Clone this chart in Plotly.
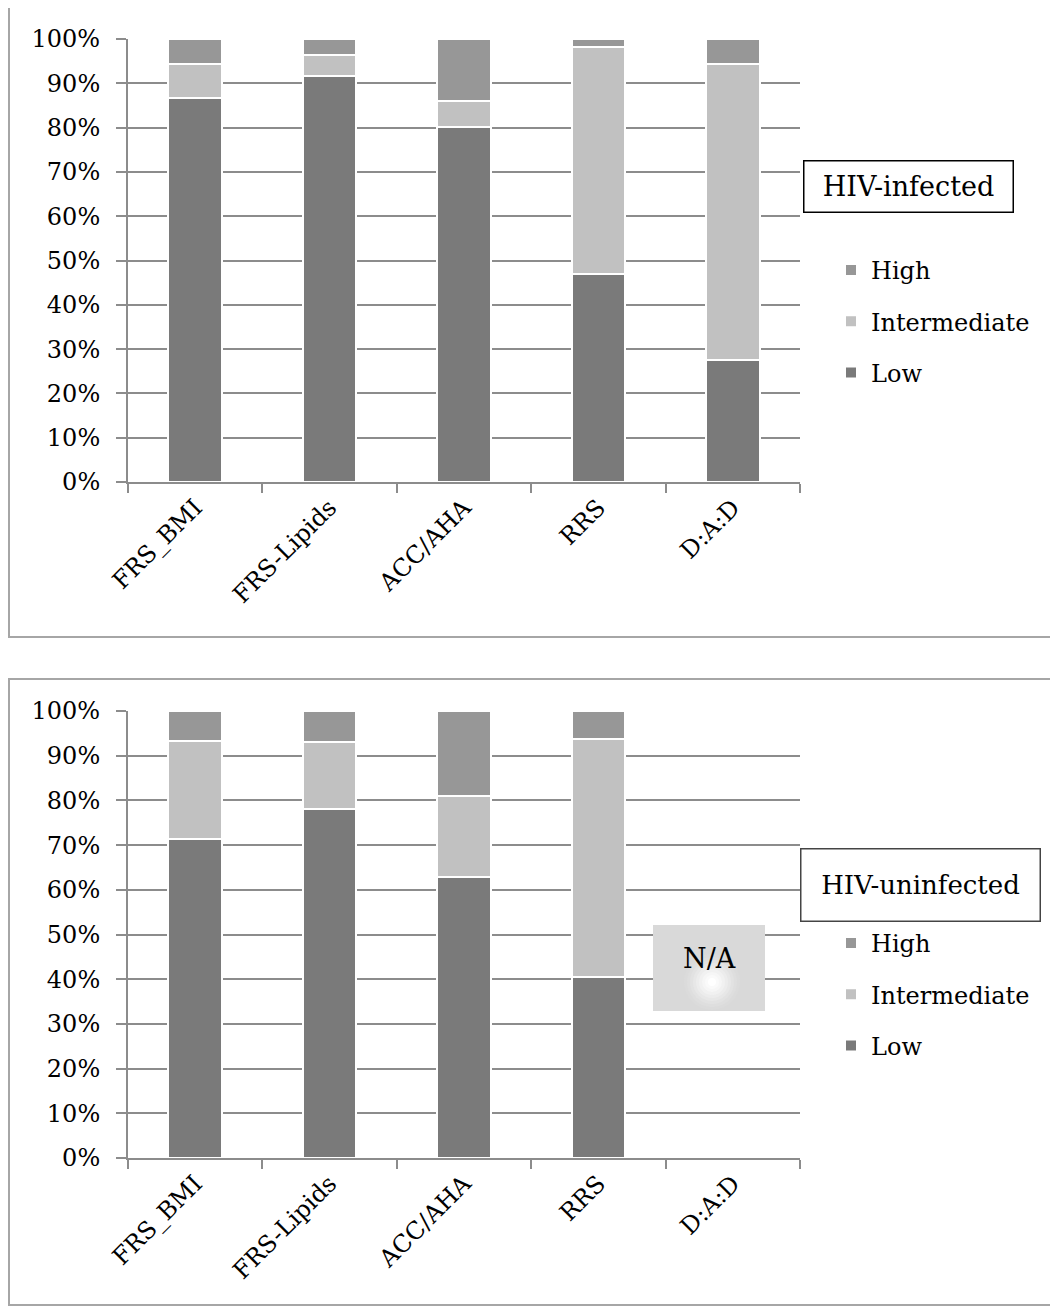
import plotly.graph_objects as go

# The page body has an 8px margin, so the figure is drawn 8px smaller and offset.
OFF = 8
W, H = 1058 - OFF, 1307 - OFF

categories = ["FRS_BMI", "FRS-Lipids", "ACC/AHA", "RRS", "D:A:D"]

# HIV-infected (percent)
inf_low = [86.7, 91.6, 80.1, 47.0, 27.5]
inf_int = [7.7, 4.8, 5.9, 51.2, 66.9]
inf_high = [5.6, 3.6, 14.0, 1.8, 5.6]

# HIV-uninfected (percent); D:A:D not available
un_low = [71.4, 78.0, 62.9, 40.5, None]
un_int = [21.9, 15.1, 18.1, 53.2, None]
un_high = [6.7, 6.9, 19.0, 6.3, None]

series_names = ["Low", "Intermediate", "High"]
series_rank = {"High": 1, "Intermediate": 2, "Low": 3}
series_colors = {"Low": "#7a7a7a", "Intermediate": "#c1c1c1", "High": "#979797"}

FONT = "DejaVu Serif"


def px(x):
    return (x - OFF) / W


def py(y):
    return 1 - (y - OFF) / H


fig = go.Figure()

panels = [
    ("x", "y", "legend", [inf_low, inf_int, inf_high]),
    ("x2", "y2", "legend2", [un_low, un_int, un_high]),
]
for xa, ya, leg, vals in panels:
    for name, v in zip(series_names, vals):
        fig.add_trace(go.Bar(
            x=categories, y=v, name=name, xaxis=xa, yaxis=ya, legend=leg,
            legendgroup=name + leg, legendrank=series_rank[name],
            marker=dict(color=series_colors[name], line=dict(color="white", width=2)),
            width=0.4,
        ))

axis_common_x = dict(
    type="category", showgrid=False, showline=True, linecolor="#8c8c8c", linewidth=2,
    ticks="outside", tickson="boundaries", ticklen=9, tickcolor="#8c8c8c", tickwidth=2,
    tickangle=-45, tickfont=dict(family=FONT, size=24, color="black"),
    categoryorder="array", categoryarray=categories, fixedrange=True, automargin=False,
)
axis_common_y = dict(
    range=[0, 100], dtick=10, ticksuffix="%", showgrid=True, gridcolor="#8c8c8c",
    gridwidth=2, showline=True, linecolor="#8c8c8c", linewidth=2,
    ticks="outside", ticklen=10, tickcolor="#8c8c8c", tickwidth=2,
    tickfont=dict(family=FONT, size=24, color="black"), ticklabelstandoff=11,
    zeroline=False, fixedrange=True, automargin=False,
)

legend_common = dict(
    xanchor="left", yanchor="top", traceorder="grouped",
    font=dict(family=FONT, size=24, color="black"), tracegroupgap=17,
    itemwidth=30, bgcolor="rgba(0,0,0,0)",
)

xdom = [px(128), px(800)]
fig.update_layout(
    width=W, height=H, margin=dict(l=0, r=0, t=0, b=0, autoexpand=False),
    paper_bgcolor="white", plot_bgcolor="white", barmode="stack",
    showlegend=True,
    xaxis=dict(domain=xdom, anchor="y", **axis_common_x),
    yaxis=dict(domain=[py(482), py(39)], anchor="x", **axis_common_y),
    xaxis2=dict(domain=xdom, anchor="y2", **axis_common_x),
    yaxis2=dict(domain=[py(1158), py(711)], anchor="x2", **axis_common_y),
    legend=dict(x=px(831), y=py(248), **legend_common),
    legend2=dict(x=px(831), y=py(921), **legend_common),
)

shapes = [
    # panel borders
    dict(type="rect", xref="paper", yref="paper", x0=px(9), x1=px(1070), y0=py(637), y1=py(7),
         line=dict(color="#a6a6a6", width=2), layer="below"),
    dict(type="rect", xref="paper", yref="paper", x0=px(9), x1=px(1070), y0=py(1305), y1=py(679),
         line=dict(color="#a6a6a6", width=2), layer="below"),
    # N/A box
    dict(type="rect", xref="paper", yref="paper", x0=px(653), x1=px(765), y0=py(1011), y1=py(925),
         fillcolor="#d9d9d9", line=dict(color="#d9d9d9", width=0), layer="above"),
]
# radial glow inside N/A box
cx, cy = 712, 982
glow = [(28, "#dbdbdb"), (25, "#dedede"), (22, "#e2e2e2"), (19, "#e7e7e7"), (16, "#ececec"),
        (13, "#f1f1f1"), (10, "#f6f6f6"), (7, "#fafafa"), (4, "#ffffff")]
for r, c in glow:
    shapes.append(dict(type="circle", xref="paper", yref="paper",
                       x0=px(cx - r), x1=px(cx + r), y0=py(cy + r), y1=py(cy - r),
                       fillcolor=c, line=dict(width=0), layer="above"))
fig.update_layout(shapes=shapes)

annotations = [
    dict(text="HIV-infected", xref="paper", yref="paper", x=px(908.5), y=py(186),
         xanchor="center", yanchor="middle", showarrow=False,
         font=dict(family=FONT, size=27, color="black"),
         bordercolor="black", borderwidth=1.5, borderpad=0, width=208, height=50,
         bgcolor="white"),
    dict(text="HIV-uninfected", xref="paper", yref="paper", x=px(920.5), y=py(885),
         xanchor="center", yanchor="middle", showarrow=False,
         font=dict(family=FONT, size=26, color="black"),
         bordercolor="#444444", borderwidth=1.5, borderpad=0, width=238, height=71,
         bgcolor="white", valign="middle"),
    dict(text="N/A", xref="paper", yref="paper", x=px(709), y=py(958),
         xanchor="center", yanchor="middle", showarrow=False,
         font=dict(family=FONT, size=27, color="black")),
]
fig.update_layout(annotations=annotations)

fig.write_html("out.html")
